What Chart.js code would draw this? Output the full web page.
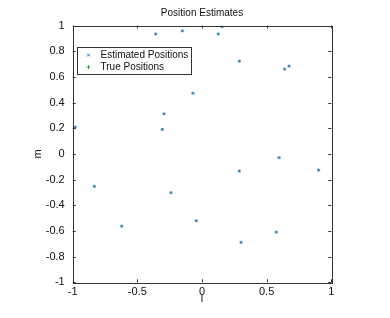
<!DOCTYPE html>
<html>
<head>
<meta charset="utf-8">
<script src="https://cdn.jsdelivr.net/npm/chart.js@4.4.0/dist/chart.umd.min.js"></script>
<style>
html, body { margin: 0; padding: 0; background: #fff; }
</style>
</head>
<body>
<canvas id="posChart" width="390" height="318"></canvas>
<script>
// Posiciones estimadas (l, m)
const estL = [0.155, -0.152, -0.358, 0.126, 0.289, 0.639, 0.673, -0.070, -0.294, -0.307, -0.980, -0.833, -0.240, 0.289, 0.596, 0.902, -0.621, -0.044, 0.302, 0.575];
const estM = [0.990, 0.958, 0.934, 0.934, 0.722, 0.660, 0.684, 0.472, 0.312, 0.191, 0.209, -0.253, -0.302, -0.134, -0.029, -0.126, -0.563, -0.521, -0.689, -0.609];
// Posiciones verdaderas (l, m)
const trueL = [0.155, -0.152, -0.358, 0.126, 0.289, 0.639, 0.673, -0.070, -0.294, -0.307, -0.980, -0.833, -0.240, 0.289, 0.596, 0.902, -0.621, -0.044, 0.302, 0.575];
const trueM = [0.990, 0.958, 0.934, 0.934, 0.722, 0.660, 0.684, 0.472, 0.312, 0.191, 0.209, -0.253, -0.302, -0.134, -0.029, -0.126, -0.563, -0.521, -0.689, -0.609];
// Etiquetas de los ejes
const xTicks = [-1, -0.5, 0, 0.5, 1];
const yTicks = [-1, -0.8, -0.6, -0.4, -0.2, 0, 0.2, 0.4, 0.6, 0.8, 1];

const FONT = '"Liberation Sans", Arial, Helvetica, sans-serif';
const BLUE = 'rgb(60, 110, 255)';
const GREEN = 'rgb(40, 175, 60)';

const toPoints = (ls, ms) => ls.map((l, i) => ({ x: l, y: ms[i] }));

// Caja del eje con marcas hacia dentro (estilo Matlab) y leyenda
const boxPlugin = {
    id: 'boxPlugin',
    afterDraw(chart) {
        const { ctx, chartArea: a, scales } = chart;
        ctx.save();
        ctx.strokeStyle = '#333';
        ctx.lineWidth = 1;
        ctx.strokeRect(Math.round(a.left) + 0.5, Math.round(a.top) + 0.5, Math.round(a.right - a.left), Math.round(a.bottom - a.top));
        const tl = 3;
        ctx.beginPath();
        xTicks.forEach(v => {
            const x = Math.round(scales.x.getPixelForValue(v)) + 0.5;
            ctx.moveTo(x, a.bottom); ctx.lineTo(x, a.bottom - tl);
            ctx.moveTo(x, a.top); ctx.lineTo(x, a.top + tl);
        });
        yTicks.forEach(v => {
            const y = Math.round(scales.y.getPixelForValue(v)) + 0.5;
            ctx.moveTo(a.left, y); ctx.lineTo(a.left + tl, y);
            ctx.moveTo(a.right, y); ctx.lineTo(a.right - tl, y);
        });
        ctx.stroke();

        // Leyenda
        const lx = Math.round(a.left) + 4.5, ly = Math.round(a.top) + 21.5;
        const lw = 114, lh = 27;
        ctx.fillStyle = '#fff';
        ctx.fillRect(lx, ly, lw, lh);
        ctx.strokeStyle = '#333';
        ctx.strokeRect(lx, ly, lw, lh);
        ctx.font = '10px ' + FONT;
        ctx.fillStyle = '#111';
        ctx.textBaseline = 'middle';
        chart.data.datasets.forEach((ds, i) => {
            const cy = ly + 7.5 + i * 12;
            const cx = lx + 11;
            ctx.strokeStyle = ds.borderColor;
            ctx.beginPath();
            if (ds.pointStyle === 'crossRot') {
                ctx.moveTo(cx - 1.5, cy - 1.5); ctx.lineTo(cx + 1.5, cy + 1.5);
                ctx.moveTo(cx - 1.5, cy + 1.5); ctx.lineTo(cx + 1.5, cy - 1.5);
            } else {
                ctx.moveTo(cx - 2, cy); ctx.lineTo(cx + 2, cy);
                ctx.moveTo(cx, cy - 2); ctx.lineTo(cx, cy + 2);
            }
            ctx.stroke();
            ctx.fillText(ds.label, lx + 23, cy);
        });
        ctx.restore();
    }
};

const ctx = document.getElementById('posChart').getContext('2d');
const posChart = new Chart(ctx, {
    type: 'scatter',
    data: {
        datasets: [{
            label: 'Estimated Positions',
            data: toPoints(estL, estM),
            pointStyle: 'crossRot',
            pointRadius: 1.6,
            borderColor: BLUE,
            backgroundColor: BLUE,
            borderWidth: 1
        }, {
            label: 'True Positions',
            data: toPoints(trueL, trueM),
            pointStyle: 'cross',
            pointRadius: 1.6,
            borderColor: GREEN,
            backgroundColor: GREEN,
            borderWidth: 1
        }]
    },
    options: {
        responsive: false,
        animation: false,
        layout: { padding: { left: 0, right: 58.7, top: 0, bottom: 0 } },
        scales: {
            x: {
                type: 'linear',
                min: -1, max: 1,
                afterBuildTicks: s => { s.ticks = xTicks.map(v => ({ value: v })); },
                afterFit: s => { s.height = 35.7; },
                grid: { display: false, drawTicks: false },
                border: { display: false },
                ticks: { padding: 3, color: '#111', font: { family: FONT, size: 11 }, callback: v => String(v) },
                title: { display: true, text: 'l', color: '#111', font: { family: FONT, size: 11 }, padding: { top: 0, bottom: 12 } }
            },
            y: {
                type: 'linear',
                min: -1, max: 1,
                afterBuildTicks: s => { s.ticks = yTicks.map(v => ({ value: v })); },
                afterFit: s => { s.width = 72.7; },
                grid: { display: false, drawTicks: false },
                border: { display: false },
                ticks: { padding: 8, color: '#111', font: { family: FONT, size: 11 }, callback: v => String(v) },
                title: { display: true, text: 'm', color: '#111', font: { family: FONT, size: 11 }, padding: { top: 31, bottom: 0 } }
            }
        },
        plugins: {
            legend: { display: false },
            tooltip: { enabled: false },
            title: {
                display: true,
                fullSize: false,
                text: 'Position Estimates',
                color: '#111',
                font: { family: FONT, size: 10, weight: 'normal' },
                padding: { top: 7, bottom: 6.5 }
            }
        }
    },
    plugins: [boxPlugin]
});
</script>
</body>
</html>
